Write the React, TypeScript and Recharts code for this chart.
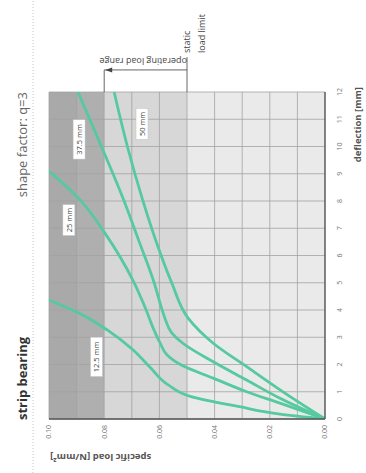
import React from 'react';
import {
  LineChart,
  Line,
  XAxis,
  YAxis,
  CartesianGrid,
  ReferenceLine,
  ReferenceDot,
} from 'recharts';

// ---- data ----
const deflectionTicks = [0, 1, 2, 3, 4, 5, 6, 7, 8, 9, 10, 11, 12];
const loadTicks = [0, 0.02, 0.04, 0.06, 0.08, 0.1];
const loadGrid = [0, 0.01, 0.02, 0.03, 0.04, 0.05, 0.06, 0.07, 0.08, 0.09, 0.1];

const curve125 = [
  { d: 0, load: 0 },
  { d: 0.18, load: 0.0163 },
  { d: 0.45, load: 0.031 },
  { d: 0.82, load: 0.0485 },
  { d: 1.25, load: 0.0568 },
  { d: 1.9, load: 0.0634 },
  { d: 2.55, load: 0.0697 },
  { d: 3.27, load: 0.0789 },
  { d: 3.82, load: 0.0878 },
  { d: 4.37, load: 0.1 },
];
const curve25 = [
  { d: 0, load: 0 },
  { d: 0.58, load: 0.0163 },
  { d: 1.0, load: 0.0284 },
  { d: 1.5, load: 0.0405 },
  { d: 1.95, load: 0.0515 },
  { d: 2.35, load: 0.0572 },
  { d: 2.8, load: 0.0598 },
  { d: 3.3, load: 0.0621 },
  { d: 4.0, load: 0.0648 },
  { d: 5.05, load: 0.0694 },
  { d: 6.83, load: 0.0798 },
  { d: 8.05, load: 0.0888 },
  { d: 9.1, load: 0.1 },
];
const curve375 = [
  { d: 0, load: 0 },
  { d: 0.76, load: 0.0163 },
  { d: 1.43, load: 0.0284 },
  { d: 2.1, load: 0.0405 },
  { d: 2.78, load: 0.0515 },
  { d: 3.2, load: 0.0558 },
  { d: 3.64, load: 0.0578 },
  { d: 4.0, load: 0.059 },
  { d: 5.0, load: 0.0619 },
  { d: 6.5, load: 0.0673 },
  { d: 8.0, load: 0.0728 },
  { d: 10, load: 0.081 },
  { d: 12, load: 0.0895 },
];
const curve50 = [
  { d: 0, load: 0 },
  { d: 1.07, load: 0.0163 },
  { d: 1.92, load: 0.0284 },
  { d: 2.78, load: 0.0405 },
  { d: 3.7, load: 0.0496 },
  { d: 4.99, load: 0.0555 },
  { d: 6.58, load: 0.0614 },
  { d: 8.05, load: 0.0661 },
  { d: 10, load: 0.0716 },
  { d: 12, load: 0.0764 },
];

const curveNames = ['12.5 mm', '25 mm', '37.5 mm', '50 mm'];
const labelDeflection = [2.28, 7.3, 10.26, 10.83];
const labelLoad = [0.0828, 0.0928, 0.0891, 0.0663];

const staticLoadLimit = 0.05;
const operatingLoadTop = 0.08;

// ---- styles ----
const FONT = '"Open Sans", "DejaVu Sans", sans-serif';
const GREEN = '#55c99f';
const stripeFills = [
  '#a9a9a9', '#afafaf', // 0.10-0.08
  '#d7d7d7', '#d7d7d7', '#d7d7d7', // 0.08-0.05
  '#eaeaea', '#eaeaea', '#eaeaea', '#eaeaea', '#eaeaea', // 0.05-0
];

const curves = [curve125, curve25, curve375, curve50];

const makeLabelShape = (text: string) => (props: any) => {
  const { cx, cy } = props;
  const w = text.length * 4.2 + 10;
  const h = 12;
  return (
    <g>
      <rect x={cx - w / 2} y={cy - h / 2} width={w} height={h} fill="#ffffff" stroke="#bdbdbd" strokeWidth={0.5} />
      <text x={cx} y={cy} textAnchor="middle" dominantBaseline="central" fontSize={7.5} fill="#444" fontFamily={FONT}>
        {text}
      </text>
    </g>
  );
};

const staticTextShape = (props: any) => {
  const { cx, cy } = props;
  return (
    <g fontFamily={FONT} fontSize={9} fill="#444">
      <text x={cx + 39} y={cy + 3}>static</text>
      <text x={cx + 39} y={cy + 18}>load limit</text>
    </g>
  );
};

const operatingTextShape = (props: any) => {
  const { cx, cy } = props;
  const x = cx + 8;
  return (
    <text
      x={x}
      y={cy}
      transform={`rotate(-90, ${x}, ${cy})`}
      textAnchor="start"
      dominantBaseline="central"
      fontFamily={FONT}
      fontSize={9}
      fill="#444"
    >
      operating load range
    </text>
  );
};

const arrowShape = (props: any) => {
  const { cx, cy } = props;
  return <polygon points={`${cx},${cy + 1} ${cx - 2.5},${cy + 8} ${cx + 2.5},${cy + 8}`} fill="#444" />;
};

export default function App() {
  return (
    <div style={{ position: 'absolute', left: 0, top: 0, width: 366, height: 473, overflow: 'hidden', background: '#fff' }}>
      <div
        style={{
          position: 'absolute',
          left: 0,
          top: 0,
          width: 473,
          height: 366,
          transformOrigin: 'top left',
          transform: 'translateY(473px) rotate(-90deg)',
          background: '#fff',
        }}
      >
        <svg width={473} height={366} style={{ position: 'absolute', left: 0, top: 0 }}>
          <line x1={0} y1={33} x2={473} y2={33} stroke="#c4c4c4" strokeWidth={1} strokeDasharray="1 2" />
          <text x={53} y={27} fontFamily={FONT} fontWeight="bold" fontSize={13} fill="#333">strip bearing</text>
          <text x={381} y={27} textAnchor="end" fontFamily={FONT} fontSize={13} fill="#666">shape factor: q=3</text>
          <text x={386} y={361} textAnchor="end" fontFamily={FONT} fontWeight="bold" fontSize={9.5} fill="#555">deflection [mm]</text>
          <text
            x={16}
            y={50}
            transform="rotate(-90, 16, 50)"
            textAnchor="end"
            dominantBaseline="central"
            fontFamily={FONT}
            fontWeight="bold"
            fontSize={9.5}
            fill="#555"
          >
            specific load [N/mm²]
          </text>
        </svg>
        <div style={{ position: 'absolute', left: 0, top: 0 }}>
          <LineChart width={473} height={366} margin={{ top: 49, right: 92, bottom: 0, left: 0 }}>
            <CartesianGrid
              horizontalValues={loadGrid}
              verticalValues={deflectionTicks}
              stroke="#a2a2a2"
              strokeWidth={0.8}
              horizontalFill={stripeFills}
              fillOpacity={1}
            />
            <XAxis
              type="number"
              dataKey="d"
              domain={[0, 12]}
              ticks={deflectionTicks}
              allowDataOverflow
              height={41}
              tickLine={false}
              tickMargin={6}
              axisLine={{ stroke: '#555', strokeWidth: 1.3 }}
              tick={{ fontSize: 7, fill: '#777', fontFamily: FONT }}
            />
            <YAxis
              type="number"
              domain={[0, 0.1]}
              ticks={loadTicks}
              allowDataOverflow
              width={54}
              tickLine={false}
              tickMargin={0}
              tickFormatter={(v: number) => v.toFixed(2)}
              axisLine={{ stroke: '#555', strokeWidth: 1.3 }}
              tick={{ fontSize: 7, fill: '#777', fontFamily: FONT }}
            />
            {curves.map((c, i) => (
              <Line
                key={curveNames[i]}
                data={c}
                dataKey="load"
                name={curveNames[i]}
                type="monotone"
                stroke={GREEN}
                strokeWidth={2.8}
                dot={false}
                activeDot={false}
                isAnimationActive={false}
              />
            ))}
            {curveNames.map((n, i) => (
              <ReferenceDot
                key={'lbl' + n}
                x={labelDeflection[i]}
                y={labelLoad[i]}
                r={0}
                ifOverflow="visible"
                shape={makeLabelShape(n)}
              />
            ))}
            <ReferenceLine
              segment={[{ x: 12, y: staticLoadLimit }, { x: 13.28, y: staticLoadLimit }]}
              ifOverflow="visible"
              stroke="#555"
              strokeWidth={0.9}
            />
            <ReferenceLine
              segment={[{ x: 12, y: operatingLoadTop }, { x: 12.81, y: operatingLoadTop }]}
              ifOverflow="visible"
              stroke="#555"
              strokeWidth={0.9}
            />
            <ReferenceLine
              segment={[{ x: 12.81, y: operatingLoadTop }, { x: 12.81, y: staticLoadLimit }]}
              ifOverflow="visible"
              stroke="#555"
              strokeWidth={0.9}
            />
            <ReferenceDot x={12.81} y={operatingLoadTop} r={0} ifOverflow="visible" shape={arrowShape} />
            <ReferenceDot x={12} y={staticLoadLimit} r={0} ifOverflow="visible" shape={staticTextShape} />
            <ReferenceDot x={12.81} y={staticLoadLimit} r={0} ifOverflow="visible" shape={operatingTextShape} />
          </LineChart>
        </div>
      </div>
    </div>
  );
}
